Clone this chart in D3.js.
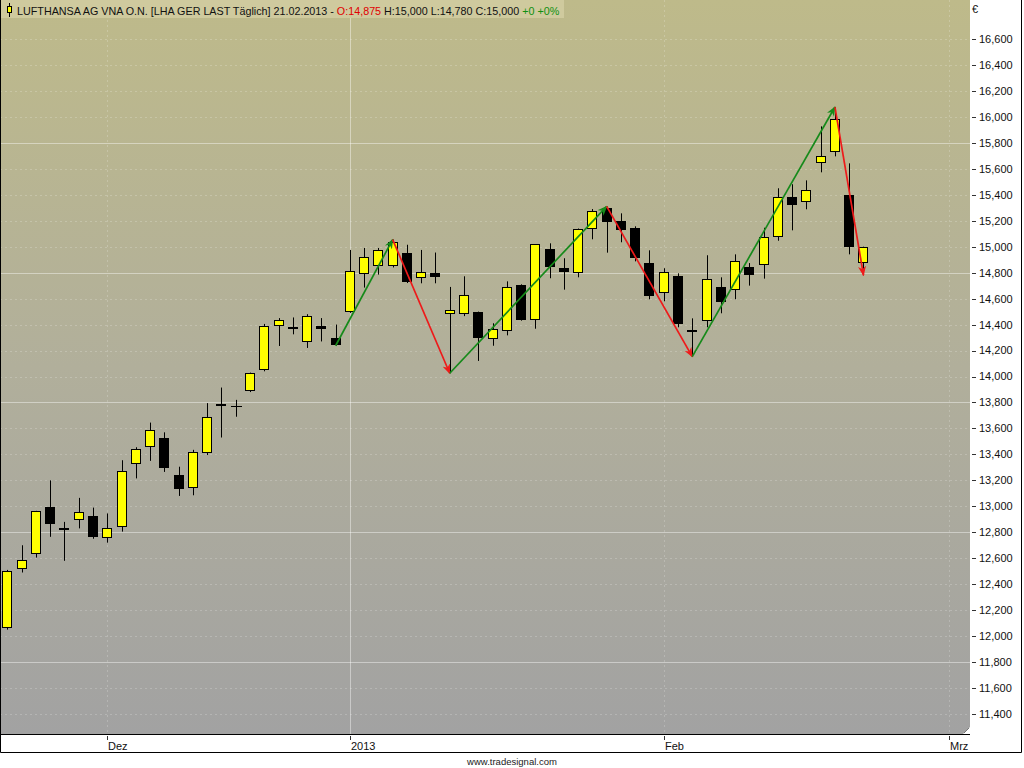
<!DOCTYPE html>
<html><head><meta charset="utf-8">
<script src="https://cdn.jsdelivr.net/npm/d3@7/dist/d3.min.js"></script>
<style>
html,body{margin:0;padding:0;background:#fff;}
svg{display:block;font-family:"Liberation Sans",Arial,sans-serif;}
</style></head>
<body>
<svg id="chart" width="1024" height="768"></svg>
<script>
// ---- data ----
const dates = ["22.11","23.11","26.11","27.11","28.11","29.11","30.11",
"03.12","04.12","05.12","06.12","07.12","10.12","11.12","12.12","13.12","14.12","17.12","18.12","19.12","20.12","21.12","27.12","28.12",
"02.01","03.01","04.01","07.01","08.01","09.01","10.01","11.01","14.01","15.01","16.01","17.01","18.01","21.01","22.01","23.01","24.01","25.01","28.01","29.01","30.01","31.01",
"01.02","04.02","05.02","06.02","07.02","08.02","11.02","12.02","13.02","14.02","15.02","18.02","19.02","20.02","21.02"];
const open  = [12065,12515,12630,12995,12835,12890,12925,12760,12845,13325,13455,13530,13245,13140,13410,13790,13775,13885,14050,14390,14362,14265,14390,14297,
14495,14787,14850,14850,14950,14757,14800,14482,14480,14495,14287,14348,14703,14433,14980,14834,14795,15134,15296,15196,15142,14872,
14641,14772,14356,14425,14687,14664,14841,14857,15072,15381,15342,15642,15727,15396,14875];
const high  = [12510,12700,12965,13200,12880,13065,12990,12945,13355,13455,13645,13570,13305,13435,13795,13915,13820,14030,14405,14450,14455,14480,14450,14400,
14975,14990,14990,15055,15015,14975,14955,14690,14772,14500,14410,14733,14710,15020,15026,14911,15140,15290,15310,15257,15157,14972,
14834,14795,14448,14934,14764,14941,14874,15146,15450,15481,15511,15927,16076,15642,15000];
const low   = [12050,12490,12605,12765,12580,12830,12750,12720,12805,13215,13350,13265,13080,13085,13395,13530,13690,13880,14040,14235,14325,14220,14270,14237,
14490,14685,14785,14840,14720,14718,14718,14025,14465,14120,14237,14317,14430,14368,14757,14669,14764,15057,14954,15034,14887,14595,
14579,14379,14153,14379,14487,14595,14700,14754,15046,15126,15288,15573,15696,14941,14780];
const close = [12505,12585,12960,12865,12825,12955,12760,12835,13275,13440,13585,13300,13140,13415,13685,13772,13775,14025,14390,14435,14380,14465,14368,14240,
14810,14918,14972,15035,14726,14803,14772,14512,14626,14294,14364,14687,14433,15018,14841,14803,15134,15273,15188,15126,14911,14618,
14803,14402,14345,14749,14572,14887,14777,15072,15381,15319,15434,15696,15981,14995,15000];
const zigIdx = [23,27,31,42,48,58,60];
const zigVal = [14237,15055,14025,15310,14153,16076,14780];
const monthIdx = [7,24,46,66];
const monthLabels = ["Dez","2013","Feb","Mrz"];
const yTicks = d3.range(11400, 16601, 200);
const solidTicks = [11800,12800,13800,14800,15800];

// ---- layout ----
const svg = d3.select("#chart");
const plotW = 970, plotH = 734;
const x = d3.scaleLinear().domain([7,66]).range([107.3,949.1]);
const y = d3.scaleLinear().domain([11400,16600]).range([714,39]);

const defs = svg.append("defs");
const grad = defs.append("linearGradient").attr("id","bg").attr("x1",0).attr("y1",0).attr("x2",0).attr("y2",1);
grad.append("stop").attr("offset","0%").attr("stop-color","#bebA8a");
grad.append("stop").attr("offset","50%").attr("stop-color","#b1af9b");
grad.append("stop").attr("offset","100%").attr("stop-color","#a2a2a2");
function marker(id,color){
  defs.append("marker").attr("id",id).attr("viewBox","0 0 10 8").attr("refX",9).attr("refY",4)
   .attr("markerWidth",10).attr("markerHeight",8).attr("markerUnits","userSpaceOnUse").attr("orient","auto")
   .append("path").attr("d","M0,0 L10,4 L0,8 L3,4 Z").attr("fill",color);
}
marker("mg","#168a1a"); marker("mr","#ee1a1a");

svg.append("rect").attr("x",0).attr("y",0).attr("width",plotW).attr("height",plotH).attr("fill","url(#bg)");

// grid
const g = svg.append("g");
g.selectAll("line.hg").data(yTicks).enter().append("line")
 .attr("x1",0).attr("x2",plotW)
 .attr("y1",d=>Math.round(y(d))+0.5).attr("y2",d=>Math.round(y(d))+0.5)
 .attr("stroke",d=>solidTicks.includes(d)?"rgba(255,255,255,0.42)":"rgba(255,255,255,0.2)")
 .attr("stroke-dasharray",d=>solidTicks.includes(d)?null:"2,3");
g.selectAll("line.vg").data(monthIdx).enter().append("line")
 .attr("y1",0).attr("y2",plotH)
 .attr("x1",d=>Math.round(x(d))+0.5).attr("x2",d=>Math.round(x(d))+0.5)
 .attr("stroke",(d,i)=>i===1?"rgba(255,255,255,0.42)":"rgba(255,255,255,0.2)")
 .attr("stroke-dasharray",(d,i)=>i===1?null:"2,3");

// candles
const data = open.map((o,i)=>({i,o,h:high[i],l:low[i],c:close[i]}));
const cg = svg.append("g");
cg.selectAll("line.wick").data(data).enter().append("line")
 .attr("x1",d=>Math.round(x(d.i))+0.5).attr("x2",d=>Math.round(x(d.i))+0.5)
 .attr("y1",d=>y(d.h)).attr("y2",d=>y(d.l)).attr("stroke","#000").attr("stroke-width",1);
cg.selectAll("rect.body").data(data.filter(d=>Math.abs(y(d.o)-y(d.c))>=0.5)).enter().append("rect")
 .attr("x",d=>Math.round(x(d.i))-4.5).attr("width",9)
 .attr("y",d=>Math.round(y(Math.max(d.o,d.c)))+0.5)
 .attr("height",d=>Math.max(1,Math.round(Math.abs(y(d.o)-y(d.c)))-1))
 .attr("fill",d=>d.c>=d.o?"#ffff00":"#000").attr("stroke","#000").attr("stroke-width",1);
cg.selectAll("line.doji").data(data.filter(d=>Math.abs(y(d.o)-y(d.c))<0.5)).enter().append("line")
 .attr("x1",d=>Math.round(x(d.i))-5).attr("x2",d=>Math.round(x(d.i))+6)
 .attr("y1",d=>Math.round(y(d.c))+0.5).attr("y2",d=>Math.round(y(d.c))+0.5).attr("stroke","#000");

// zigzag arrows
const zg = svg.append("g");
for(let k=0;k<zigIdx.length-1;k++){
  const up = zigVal[k+1]>zigVal[k];
  zg.append("line").attr("x1",x(zigIdx[k])).attr("y1",y(zigVal[k]))
   .attr("x2",x(zigIdx[k+1])).attr("y2",y(zigVal[k+1]))
   .attr("stroke",up?"#168a1a":"#ee1a1a").attr("stroke-width",1.7)
   .attr("marker-end",up?"url(#mg)":"url(#mr)");
}

// resize glyph
svg.append("path").attr("d","M963,734 L970,727 L970,734 Z").attr("fill","#fff");
svg.append("line").attr("x1",964).attr("y1",733).attr("x2",969).attr("y2",728).attr("stroke","#777");

// right axis panel
svg.append("rect").attr("x",970).attr("y",0).attr("width",52).attr("height",735).attr("fill","#fff");
const ya = svg.append("g");
ya.selectAll("line").data(yTicks).enter().append("line")
 .attr("x1",972).attr("x2",976).attr("y1",d=>Math.round(y(d))+0.5).attr("y2",d=>Math.round(y(d))+0.5)
 .attr("stroke","#333");
ya.selectAll("text").data(yTicks).enter().append("text")
 .attr("x",979).attr("y",d=>y(d)).attr("dy","0.36em")
 .attr("font-size",11).attr("fill","#111").text(d=>d3.format(",")(d));
svg.append("text").attr("x",972).attr("y",13).attr("font-size",11).attr("fill","#111").text("€");

// bottom axis panel
svg.append("rect").attr("x",0).attr("y",735).attr("width",1022).attr("height",18).attr("fill","#fff");
svg.append("line").attr("x1",0).attr("x2",970).attr("y1",734.5).attr("y2",734.5).attr("stroke","#000");
const xa = svg.append("g");
xa.selectAll("line").data(monthIdx).enter().append("line")
 .attr("x1",d=>Math.round(x(d))+0.5).attr("x2",d=>Math.round(x(d))+0.5)
 .attr("y1",736).attr("y2",740).attr("stroke","#333");
xa.selectAll("text").data(monthIdx).enter().append("text")
 .attr("x",d=>Math.round(x(d))+1).attr("y",750).attr("font-size",11).attr("fill","#111")
 .text((d,i)=>monthLabels[i]);

// outer border
svg.append("path").attr("d","M0.5,0 L0.5,752.5 L1021.5,752.5 L1021.5,0").attr("fill","none").attr("stroke","#000");

// header
svg.append("rect").attr("x",1).attr("y",0).attr("width",563).attr("height",18).attr("fill","#cfca9e");
svg.append("line").attr("x1",9.5).attr("x2",9.5).attr("y1",3).attr("y2",17).attr("stroke","#000");
svg.append("rect").attr("x",7.5).attr("y",6.5).attr("width",4).attr("height",6).attr("fill","#ffff00").attr("stroke","#000");
const ht = svg.append("text").attr("x",17).attr("y",14.5).attr("font-size",10.75).attr("fill","#111");
ht.append("tspan").text("LUFTHANSA AG VNA O.N. [LHA GER LAST Täglich] 21.02.2013 - ");
ht.append("tspan").attr("fill","#e00000").text("O:"+d3.format(",")(open[60]));
ht.append("tspan").text(" H:"+d3.format(",")(high[60])+" L:"+d3.format(",")(low[60])+" C:"+d3.format(",")(close[60])+" ");
ht.append("tspan").attr("fill","#109010").text("+0 +0%");

svg.append("text").attr("x",512).attr("y",765).attr("text-anchor","middle").attr("font-size",9.5).attr("fill","#222").text("www.tradesignal.com");
</script>
</body></html>
